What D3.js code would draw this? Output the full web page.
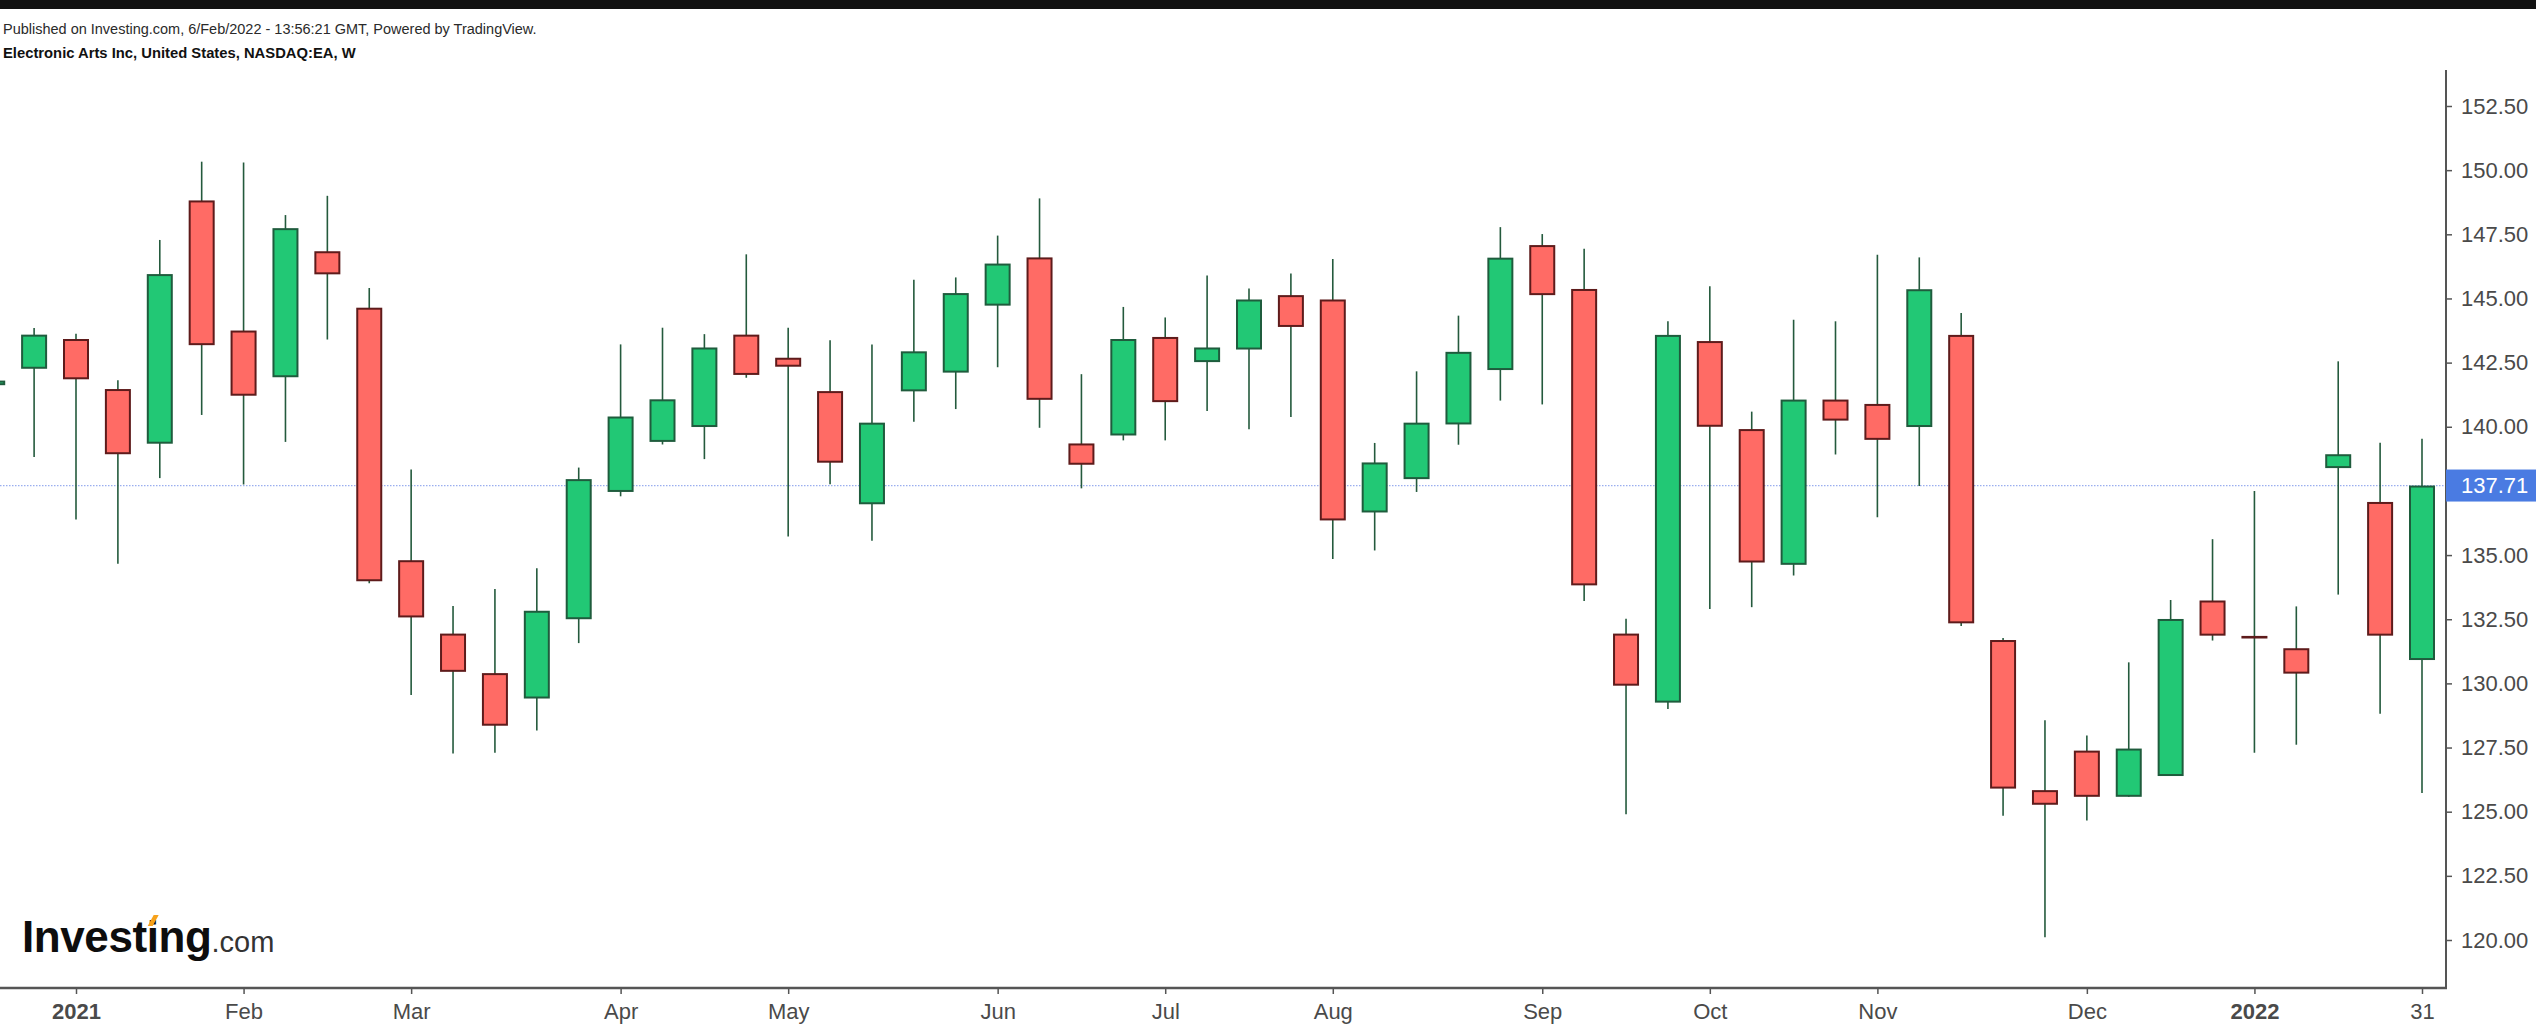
<!DOCTYPE html>
<html><head><meta charset="utf-8">
<script src="https://cdn.jsdelivr.net/npm/d3@7"></script>
<style>html,body{margin:0;padding:0;background:#fff;overflow:hidden} svg{display:block}</style>
</head><body>
<svg id="chart" width="2536" height="1032"></svg>
<script>
// ---------------- DATA ----------------
const weeks = ["2020-12-21","2020-12-28","2021-01-04","2021-01-11","2021-01-18","2021-01-25","2021-02-01","2021-02-08","2021-02-15","2021-02-22",
"2021-03-01","2021-03-08","2021-03-15","2021-03-22","2021-03-29","2021-04-05","2021-04-12","2021-04-19","2021-04-26","2021-05-03",
"2021-05-10","2021-05-17","2021-05-24","2021-05-31","2021-06-07","2021-06-14","2021-06-21","2021-06-28","2021-07-05","2021-07-12",
"2021-07-19","2021-07-26","2021-08-02","2021-08-09","2021-08-16","2021-08-23","2021-08-30","2021-09-06","2021-09-13","2021-09-20",
"2021-09-27","2021-10-04","2021-10-11","2021-10-18","2021-10-25","2021-11-01","2021-11-08","2021-11-15","2021-11-22","2021-11-29",
"2021-12-06","2021-12-13","2021-12-20","2021-12-27","2022-01-03","2022-01-10","2022-01-17","2022-01-24","2022-01-31"];
const opens  = [141.62,142.26,143.42,141.47,139.34,148.82,143.75,141.93,146.84,144.64,
134.80,131.94,130.40,129.41,132.50,137.46,139.41,139.99,143.59,142.69,
141.39,136.98,141.38,142.11,144.72,146.60,139.35,139.66,143.50,142.52,
143.01,145.13,144.96,136.66,137.96,140.09,142.21,147.08,145.37,131.94,
129.25,143.34,139.91,134.62,141.06,140.89,139.99,143.58,131.69,125.84,
127.38,125.58,126.39,133.23,131.85,131.37,138.39,137.07,130.91];
const highs  = [142.40,143.85,143.62,141.81,147.28,150.33,150.30,148.25,149.00,145.41,
138.33,133.02,133.68,134.49,138.41,143.21,143.86,143.61,146.72,143.86,
143.37,143.21,145.73,145.82,147.45,148.90,142.05,144.67,144.26,145.89,
145.39,145.97,146.54,139.37,142.16,144.33,147.78,147.51,146.94,132.52,
144.11,145.48,140.59,144.17,144.11,146.70,146.60,144.43,131.77,128.56,
127.97,130.82,133.25,135.62,137.50,133.00,142.55,139.38,139.53];
const lows   = [140.90,138.82,136.39,134.66,138.00,140.46,137.75,139.41,143.40,133.90,
129.55,127.27,127.30,128.16,131.57,137.29,139.31,138.74,141.91,135.72,
137.76,135.56,140.20,140.69,142.32,139.96,137.60,139.47,139.47,140.61,
139.90,140.38,134.85,135.18,137.46,139.30,141.02,140.87,133.21,124.90,
129.00,132.90,132.97,134.20,138.92,136.47,137.69,132.24,124.84,120.11,
124.66,125.58,126.39,131.67,127.30,127.61,133.46,128.82,125.73];
const closes = [141.80,143.59,141.85,138.93,145.95,143.18,141.21,147.74,145.94,133.98,
132.57,130.45,128.35,132.83,137.96,140.40,141.07,143.09,142.02,142.34,
138.60,140.16,142.94,145.21,146.36,141.05,138.52,143.42,140.96,143.09,
144.96,143.89,136.35,138.61,140.16,142.92,146.59,145.13,133.82,129.91,
143.58,140.00,134.71,141.06,140.24,139.49,145.36,132.34,125.90,125.27,
125.58,127.46,132.51,131.86,131.80,130.38,138.93,131.86,137.71];
const yTickValues = [120,122.5,125,127.5,130,132.5,135,137.5,140,142.5,145,147.5,150,152.5].filter(v=>v!==137.5);
const xTickDates  = ["2021-01-04","2021-02-01","2021-03-01","2021-04-05","2021-05-03","2021-06-07","2021-07-05","2021-08-02","2021-09-06","2021-10-04","2021-11-01","2021-12-06","2022-01-03","2022-01-31"];
const xTickLabels = ["2021","Feb","Mar","Apr","May","Jun","Jul","Aug","Sep","Oct","Nov","Dec","2022","31"];
const lastPrice = 137.71;
const headerLine1 = "Published on Investing.com, 6/Feb/2022 - 13:56:21 GMT, Powered by TradingView.";
const headerLine2 = "Electronic Arts Inc, United States, NASDAQ:EA, W";

// ---------------- LAYOUT ----------------
const W = 2536, H = 1032;
const plotRight = 2446, plotTop = 70, plotBottom = 988;
const FONT = "'Liberation Sans', Arial, Helvetica, sans-serif";
const svg = d3.select('#chart');
const parse = d3.utcParse('%Y-%m-%d');
const data = weeks.map((w,i)=>({date:parse(w), o:opens[i], h:highs[i], l:lows[i], c:closes[i]}));

const x = d3.scaleUtc().domain([parse('2021-01-04'), parse('2022-01-31')]).range([76, 2422]);
const y = d3.scaleLinear().domain([120, 152.5]).range([940, 106]);

svg.append('rect').attr('width', W).attr('height', H).attr('fill', '#fff');
svg.append('rect').attr('width', W).attr('height', 9).attr('fill', '#121212');

// header
function fitText(sel, target, base){
  const len = sel.node().getComputedTextLength();
  sel.attr('font-size', base * target / len);
}
const h1 = svg.append('text').attr('x', 3).attr('y', 33.5).attr('font-family', FONT)
  .attr('font-size', 14).attr('fill', '#2a2a2a').text(headerLine1);
fitText(h1, 534, 14);
const h2 = svg.append('text').attr('x', 3).attr('y', 57.5).attr('font-family', FONT)
  .attr('font-size', 14).attr('font-weight', 'bold').attr('fill', '#111').text(headerLine2);
fitText(h2, 353, 14);

// clip
svg.append('clipPath').attr('id', 'plotclip').append('rect')
  .attr('x', 0).attr('y', 0).attr('width', plotRight).attr('height', plotBottom);

const plot = svg.append('g').attr('clip-path', 'url(#plotclip)');

// last price dotted line
plot.append('line').attr('x1', 0).attr('x2', plotRight)
  .attr('y1', y(lastPrice)).attr('y2', y(lastPrice))
  .attr('stroke', '#9aaeef').attr('stroke-width', 1.2).attr('stroke-dasharray', '1.5,1.5');

// candles
const bodyW = 24;
const GREEN = '#22C875', GREEN_EDGE = '#1F5C3D', RED = '#FF6B65', RED_EDGE = '#5E1B1B', WICK = '#245A3D';
const candles = plot.selectAll('g.candle').data(data).join('g').attr('class', 'candle');
candles.append('line')
  .attr('x1', d => x(d.date)).attr('x2', d => x(d.date))
  .attr('y1', d => y(d.h)).attr('y2', d => y(d.l))
  .attr('stroke', WICK).attr('stroke-width', 1.6);
candles.append('rect')
  .attr('x', d => x(d.date) - bodyW/2)
  .attr('width', bodyW)
  .attr('y', d => y(Math.max(d.o, d.c)) + 1)
  .attr('height', d => Math.max(0.6, Math.abs(y(d.o) - y(d.c)) - 2))
  .attr('fill', d => d.c >= d.o ? GREEN : RED)
  .attr('stroke', d => d.c >= d.o ? GREEN_EDGE : RED_EDGE)
  .attr('stroke-width', 2);

// y axis
const yAxis = d3.axisRight(y).tickValues(yTickValues).tickSize(6).tickPadding(9)
  .tickFormat(d3.format('.2f'));
const gy = svg.append('g').attr('transform', `translate(${plotRight},0)`).call(yAxis);
gy.select('.domain').remove();
gy.selectAll('.tick line').attr('stroke', '#555').attr('stroke-width', 1.5);
gy.selectAll('.tick text').attr('font-family', FONT).attr('font-size', 22).attr('fill', '#4a4a4a');
svg.append('line').attr('x1', plotRight).attr('x2', plotRight).attr('y1', plotTop).attr('y2', plotBottom + 1)
  .attr('stroke', '#555').attr('stroke-width', 2);

// x axis
const xAxis = d3.axisBottom(x).tickValues(xTickDates.map(parse)).tickSize(6).tickPadding(9)
  .tickFormat((d, i) => xTickLabels[i]);
const gx = svg.append('g').attr('transform', `translate(0,${plotBottom})`).call(xAxis);
gx.select('.domain').remove();
gx.selectAll('.tick line').attr('stroke', '#555').attr('stroke-width', 1.5);
gx.selectAll('.tick text').attr('font-family', FONT).attr('font-size', 22).attr('fill', '#4a4a4a')
  .attr('font-weight', (d, i) => (xTickLabels[i] === '2021' || xTickLabels[i] === '2022') ? 'bold' : 'normal');
svg.append('line').attr('x1', 0).attr('x2', plotRight + 1).attr('y1', plotBottom).attr('y2', plotBottom)
  .attr('stroke', '#555').attr('stroke-width', 2.5);

// last price label
const ly = y(lastPrice);
svg.append('rect').attr('x', plotRight).attr('y', ly - 16).attr('width', W - plotRight).attr('height', 32)
  .attr('fill', '#4A7BE2');
svg.append('text').attr('x', plotRight + 15).attr('y', ly).attr('dy', '0.36em')
  .attr('font-family', FONT).attr('font-size', 22).attr('fill', '#fff').text(d3.format('.2f')(lastPrice));

// logo
const logo = svg.append('text').attr('x', 22).attr('y', 952).attr('font-family', FONT);
const t1 = logo.append('tspan').attr('font-size', 44).attr('font-weight', 'bold').attr('fill', '#0d0d0d')
  .attr('letter-spacing', -0.4).text('Investing');
logo.append('tspan').attr('font-size', 29).attr('fill', '#333').text('.com');
// orange accent over the "i" of "tin"
const iStart = logo.node().getSubStringLength(0, 6);
const iW = logo.node().getSubStringLength(6, 1);
const cx = 22 + iStart + iW/2;
svg.append('path')
  .attr('d', `M${cx-5},926 L${cx+1},915 L${cx+6},915 L${cx},926 Z`)
  .attr('fill', '#F7A21B');
</script>
</body></html>
